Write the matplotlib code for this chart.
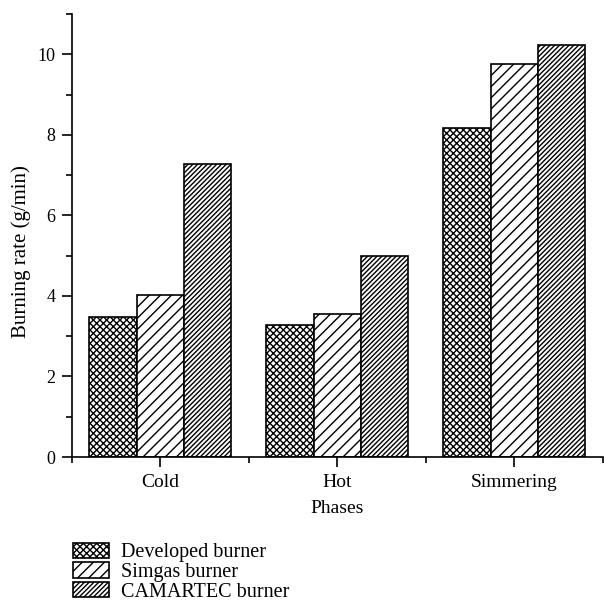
import matplotlib
matplotlib.use("Agg")
import matplotlib.pyplot as plt
import numpy as np
from matplotlib.ticker import MultipleLocator

plt.rcParams['font.family'] = ['Liberation Serif', 'DejaVu Serif']
plt.rcParams['hatch.linewidth'] = 1.0

phases = ["Cold", "Hot", "Simmering"]
burners = ["Developed burner", "Simgas burner", "CAMARTEC burner"]
developed = [3.47, 3.27, 8.18]
simgas = [4.03, 3.55, 9.77]
camartec = [7.28, 4.98, 10.22]

hatches = ["xxxxx", "///", "///////"]
series = [developed, simgas, camartec]

fig = plt.figure(figsize=(6.04, 6.14), dpi=100)
ax = fig.add_axes([0.119, 0.2557, 0.879, 0.7215])

x = np.arange(len(phases))
w = 0.267
bars = []
for i, (vals, h, name) in enumerate(zip(series, hatches, burners)):
    b = ax.bar(x + (i - 1) * w, vals, w, facecolor="white", edgecolor="black",
               hatch=h, linewidth=1.2, label=name)
    bars.append(b)

ax.set_xlim(-0.5, 2.5)
ax.set_ylim(0, 11)
ax.set_xticks(x)
ax.set_xticklabels(phases)
ax.set_xticks([-0.5, 0.5, 1.5, 2.5], minor=True)
ax.yaxis.set_major_locator(MultipleLocator(2))
ax.yaxis.set_minor_locator(MultipleLocator(1))
ax.tick_params(axis="x", which="major", labelsize=14, pad=5)
ax.tick_params(axis="y", which="major", labelsize=13, pad=5)
ax.tick_params(axis="both", which="major", direction="out", length=7, width=1.2)
ax.tick_params(axis="both", which="minor", direction="out", length=4, width=1.2)
for s in ["top", "right"]:
    ax.spines[s].set_visible(False)
for s in ["left", "bottom"]:
    ax.spines[s].set_linewidth(1.2)

ax.set_xlabel("Phases", fontsize=14, labelpad=7)
ax.set_ylabel("Burning rate (g/min)", fontsize=15)
ax.yaxis.set_label_coords(-0.077, 0.463)

leg = fig.legend(handles=bars, labels=burners, loc="upper left",
                 frameon=False, fontsize=14.5, handlelength=1.8, handleheight=0.78,
                 labelspacing=0.0, handletextpad=0.6, borderaxespad=0)
leg.set_bbox_to_anchor((0.107, 0.129), transform=fig.transFigure)

fig.savefig("out.png", dpi=100)
